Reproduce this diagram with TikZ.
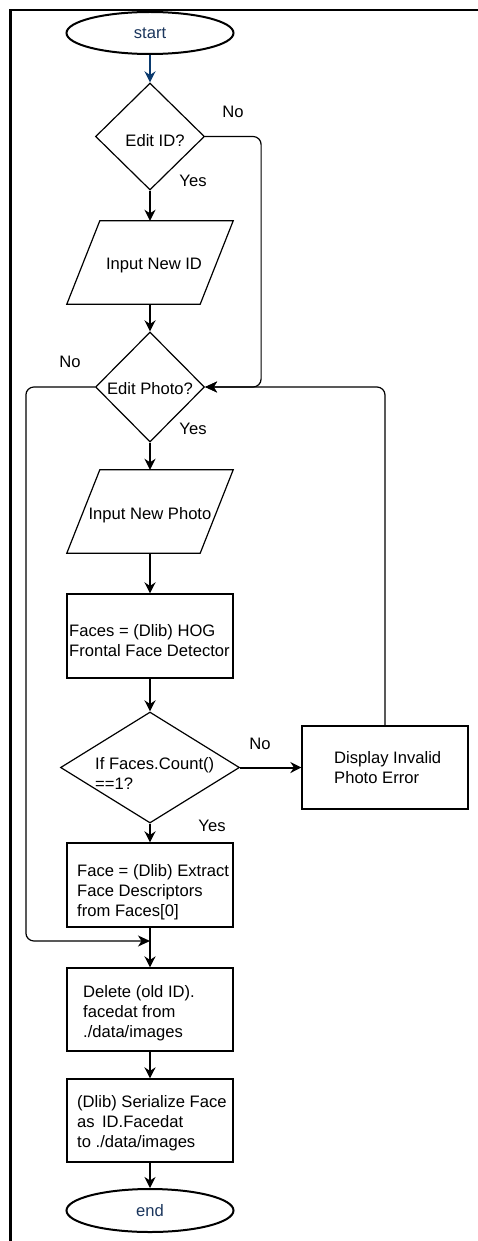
\documentclass[tikz,border=0pt]{standalone}
\usepackage{fontspec}
\setmainfont{Liberation Sans}
\usetikzlibrary{arrows.meta,shapes.geometric,calc}
\definecolor{navytext}{HTML}{1B365D}
\definecolor{navyarrow}{HTML}{0A3A6E}
\begin{document}
\begin{tikzpicture}[x=1pt,y=-1pt,
  every node/.style={font=\fontsize{16.6}{20}\selectfont, inner sep=0pt},
  term/.style={ellipse, draw, line width=2pt, minimum width=167pt, minimum height=42pt},
  dec/.style={diamond, draw, line width=1.2pt, minimum width=109pt, minimum height=108pt},
  proc/.style={rectangle, draw, line width=1.2pt, minimum width=166pt, minimum height=83pt},
  ghost/.style={rectangle, minimum width=166pt, minimum height=83pt},
  para/.style={line width=1.2pt, line join=miter},
  flow/.style={line width=2pt, -{Stealth[length=11pt,width=11pt,inset=3.5pt]}},
  loopline/.style={line width=1.2pt, rounded corners=8pt, -{Stealth[length=12pt,width=11pt,inset=3.5pt]}},
  txt/.style={align=left, anchor=west}]
\useasboundingbox (0,0) rectangle (477,1241);
% frame
\draw[line width=2.5pt, line join=miter] (10.5,1250) -- (10.5,10) -- (490,10);

% nodes
\node[term, text=navytext] (start) at (150,33) {start};
\node[dec, minimum height=107pt] (eid) at (150,136.5) {};
\node (eidt) at (155,141) {Edit ID?};

\node[ghost] (inid) at (150,262.5) {};
\draw[para] ($(inid.north west)+(33,0)$) -- (inid.north east) -- ($(inid.south east)+(-33,0)$) -- (inid.south west) -- cycle;
\node (inidt) at (154,266) {Input New ID};

\node[dec, minimum height=110pt] (eph) at (150,387) {};
\node (epht) at (150,389) {Edit Photo?};

\node[ghost] (inph) at (150,511.5) {};
\draw[para] ($(inph.north west)+(33,0)$) -- (inph.north east) -- ($(inph.south east)+(-33,0)$) -- (inph.south west) -- cycle;
\node (inpht) at (150,515) {Input New Photo};

\node[proc, minimum height=84pt] (faces) at (150,636) {};
\node[txt] (facest) at (69,641) {Faces = (Dlib) HOG\\Frontal Face Detector};

\node[dec, minimum width=179pt, minimum height=111pt] (ifc) at (150,767.5) {};
\node[txt] (ifct) at (95,773.5) {If Faces.Count()\\==1?};

\node[proc] (disp) at (385,767.5) {};
\node[txt] (dispt) at (334,768) {Display Invalid\\Photo Error};

\node[proc, minimum height=84pt] (face) at (150,885) {};
\node[txt] (facet) at (77,892) {Face = (Dlib) Extract\\Face Descriptors\\from Faces[0]};

\coordinate (join) at (150,941);

\node[proc] (del) at (150,1009.5) {};
\node[txt] (delt) at (83,1013) {Delete (old ID).\\facedat from\\./data/images};

\node[proc] (ser) at (150,1120.5) {};
\node[txt] (sert) at (77,1123) {(Dlib) Serialize Face\\as\, ID.Facedat\\to ./data/images};

\node[term, minimum height=43pt, text=navytext] (end) at (150,1210.5) {end};

% labels
\node (no1) at (233,112) {No};
\node (yes1) at (193,181) {Yes};
\node (no2) at (70,362) {No};
\node (yes2) at (193,429) {Yes};
\node (no3) at (260,744) {No};
\node (yes3) at (212,826) {Yes};

% connectors
\draw[flow, draw=navyarrow, fill=navyarrow] (start.south) -- (eid.north);
\draw[flow] (eid.south) -- (inid.north);
\draw[flow] (inid.south) -- (eph.north);
\draw[loopline] (eid.east) -- ++(56,0) |- (eph.east);
\draw[loopline] (disp.north) |- (eph.east);
\draw[loopline] (eph.west) -- ++(-69,0) |- (join);
\draw[flow] (eph.south) -- (inph.north);
\draw[flow] (inph.south) -- (faces.north);
\draw[flow] (faces.south) -- (ifc.north);
\draw[flow] (ifc.east) -- (disp.west);
\draw[flow] (ifc.south) -- (face.north);
\draw[flow] (face.south) -- (del.north);
\draw[flow] (del.south) -- (ser.north);
\draw[flow] (ser.south) -- (end.north);
\end{tikzpicture}
\end{document}
